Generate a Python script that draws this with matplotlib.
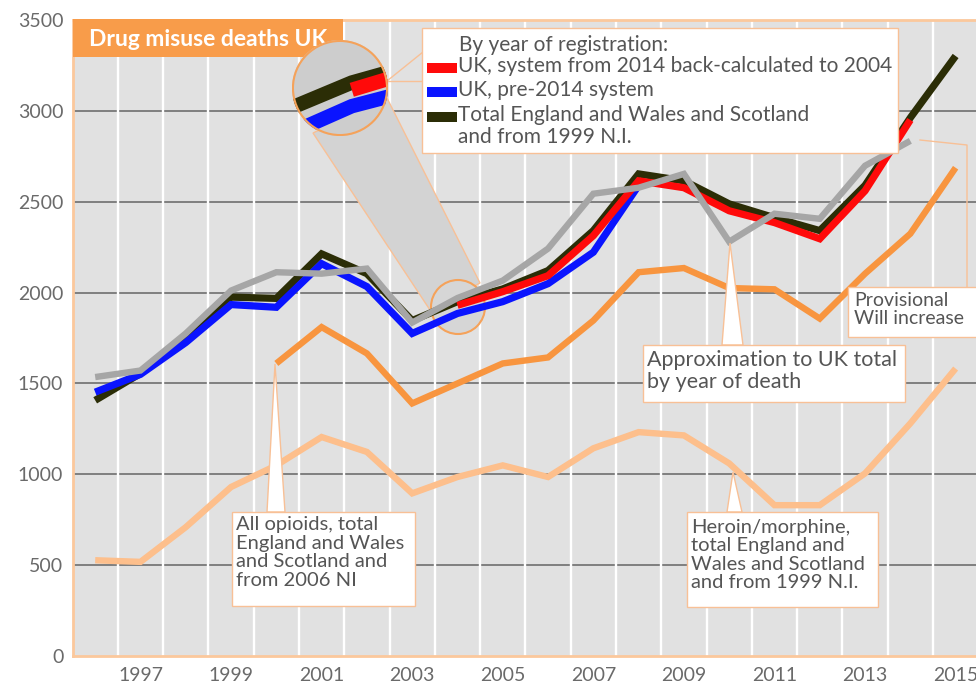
import numpy as np
import matplotlib.pyplot as plt
import matplotlib.transforms as mtransforms
from matplotlib.patches import Rectangle, Polygon, Circle

plt.rcParams['font.family'] = ['Lato', 'DejaVu Sans']

# --- data ---
years = np.arange(1996, 2016)
total_gb_ni = [1407, 1555, 1740, 1975, 1968, 2213, 2104, 1846, 1950, 2020,
               2121, 2341, 2653, 2615, 2488, 2412, 2341, 2590, 2962, 3302]

pre2014_years = np.arange(1996, 2009)
uk_pre2014 = [1452, 1550, 1725, 1934, 1919, 2159, 2033, 1775, 1885, 1950,
              2049, 2222, 2590]

new_years = np.arange(2004, 2015)
uk_new_system = [1930, 2005, 2093, 2313, 2615, 2577, 2450, 2385, 2296, 2560, 2950]

death_years = np.arange(1996, 2015)
uk_by_death = [1535, 1571, 1775, 2011, 2112, 2104, 2132, 1835, 1970, 2066,
               2242, 2544, 2577, 2653, 2280, 2434, 2406, 2698, 2835]

opioid_years = np.arange(2000, 2016)
all_opioids = [1610, 1810, 1665, 1390, 1500, 1610, 1643, 1846, 2112, 2135,
               2025, 2018, 1857, 2104, 2324, 2687]

heroin_morphine = [527, 518, 709, 930, 1049, 1205, 1123, 895, 985, 1049,
                   985, 1143, 1232, 1214, 1060, 830, 830, 1005, 1280, 1582]

yticks = [0, 500, 1000, 1500, 2000, 2500, 3000, 3500]
xticks = list(range(1997, 2016, 2))

# colours
c_black = '#2b2d06'
c_red = '#ff0a0a'
c_blue = '#0a14ff'
c_grey = '#a6a6a6'
c_orange = '#f8953f'
c_light = '#fdbf8c'
c_edge = '#f8c096'
c_text = '#555555'

W, H = 976, 687
fig = plt.figure(figsize=(W / 100, H / 100), dpi=100)
ax = fig.add_axes([73 / W, 1 - 656 / H, (W - 73) / W, (656 - 20) / H])
# reference-pixel transform for the decorations
pix = mtransforms.Affine2D().scale(1 / W, -1 / H).translate(0, 1) + fig.transFigure

ax.set_facecolor('#e1e1e1')
ax.set_xlim(1995.51, 2015.45)
ax.set_ylim(0, 3500)

for y in yticks[1:-1]:
    ax.axhline(y, color='#777777', lw=1.3, zorder=1)
for x in np.arange(1996.5, 2015.5, 1):
    ax.axvline(x, color='white', lw=1.7, zorder=1.5)

ax.set_xticks(xticks)
ax.set_yticks(yticks)
ax.tick_params(length=0, labelsize=14, labelcolor='#6a6a6a')
ax.tick_params(axis='y', pad=7)
ax.tick_params(axis='x', pad=8)
for side in ['left', 'top', 'bottom']:
    ax.spines[side].set_color('#fbc89c')
    ax.spines[side].set_linewidth(2)
ax.spines['right'].set_visible(False)

# zoom connector and small circle (under the lines)
ax.add_patch(Polygon([(313, 133), (387, 98), (480, 283), (430, 310)], closed=True,
                     transform=pix, fc='#d3d3d3', ec=c_edge, lw=1, zorder=2, clip_on=False))
ax.add_patch(Circle((458, 307), 27, transform=pix, fc='#d6d6d6', ec='#f5a25a',
                    lw=1.5, zorder=2.1, clip_on=False))

lw = 5.2
kw = dict(solid_joinstyle='miter', solid_capstyle='butt')
ax.plot(years, total_gb_ni, color=c_black, lw=lw, zorder=3, **kw)
ax.plot(pre2014_years, uk_pre2014, color=c_blue, lw=lw, zorder=3.1, **kw)
ax.plot(new_years, uk_new_system, color=c_red, lw=lw, zorder=3.2, **kw)
ax.plot(death_years, uk_by_death, color=c_grey, lw=4.6, zorder=3.3, **kw)
ax.plot(opioid_years, all_opioids, color=c_orange, lw=4.6, zorder=3, **kw)
ax.plot(years, heroin_morphine, color=c_light, lw=4.6, zorder=3, **kw)

# annotation pointers and boxes
pointers = [
    [(267, 512), (275, 364), (285, 512)],
    [(722, 345), (730, 243), (743, 345)],
    [(727, 512), (733, 472), (742, 512)],
]
for pts in pointers:
    ax.add_patch(Polygon(pts, closed=True, transform=pix, fc='white', ec=c_edge,
                         lw=1, zorder=5, clip_on=False))
ax.plot([920, 967, 967], [140, 145, 290], transform=pix, color=c_edge, lw=1,
        zorder=5, clip_on=False)

boxes = [
    ((232, 512, 183, 94), (236, 516), "All opioids, total\nEngland and Wales\nand Scotland and\nfrom 2006 NI", 14.5, 1.12),
    ((643, 345, 262, 57), (647, 350), "Approximation to UK total\nby year of death", 15.5, 1.1),
    ((687, 512, 191, 95), (691, 519), "Heroin/morphine,\ntotal England and\nWales and Scotland\nand from 1999 N.I.", 14.5, 1.1),
    ((848, 287, 140, 50), (854, 292), "Provisional\nWill increase", 14, 1.05),
]
for (x0, y0, w, h), (tx, ty), label, fs, ls in boxes:
    ax.add_patch(Rectangle((x0, y0), w, h, transform=pix, fc='white', ec=c_edge,
                           lw=1, zorder=6, clip_on=False))
    ax.text(tx, ty, label, transform=pix, ha='left', va='top', fontsize=fs,
            color=c_text, linespacing=ls, zorder=7, clip_on=False)

# legend box
ax.plot([387, 423], [81, 81], transform=pix, color=c_edge, lw=1, zorder=7, clip_on=False)
ax.plot([387, 423], [81, 52], transform=pix, color=c_edge, lw=1, zorder=7, clip_on=False)
ax.add_patch(Rectangle((422, 28), 476, 125, transform=pix, fc='white', ec=c_edge,
                       lw=1, zorder=8, clip_on=False))
ax.text(459, 45, "By year of registration:", transform=pix, va='center',
        fontsize=15, color=c_text, zorder=9)
legend_rows = [
    (c_red, 68, "UK, system from 2014 back-calculated to 2004"),
    (c_blue, 92, "UK, pre-2014 system"),
    (c_black, 117, "Total England and Wales and Scotland\nand from 1999 N.I."),
]
for col, yc, label in legend_rows:
    ax.add_patch(Rectangle((427, yc - 5), 30, 10, transform=pix, fc=col, ec='none',
                           zorder=9, clip_on=False))
    ax.text(458, yc - 12, label, transform=pix, va='top', fontsize=15,
            color=c_text, linespacing=1.1, zorder=9)

# title tab
ax.add_patch(Rectangle((73, 19), 270, 38, transform=pix, fc='#f89c4a', ec='none',
                       zorder=8, clip_on=False))
ax.text(89, 39, "Drug misuse deaths UK", transform=pix, va='center', ha='left',
        fontsize=16.5, fontweight='bold', color='white', zorder=9)

# magnifier around 2004
cx, cy, r = 340, 88, 48
axin = fig.add_axes([(cx - r) / W, 1 - (cy + r) / H, 2 * r / W, 2 * r / H])
axin.set_xlim(2003.87 - 0.53, 2003.87 + 0.53)
axin.set_ylim(1935 - 132, 1935 + 132)
axin.axis('off')
disc = Circle((0.5, 0.5), 0.5, transform=axin.transAxes, fc='#cdcdcd', ec='none')
axin.add_patch(disc)
for xs, ys, col in [(years, total_gb_ni, c_black), (pre2014_years, uk_pre2014, c_blue),
                    (new_years, uk_new_system, c_red)]:
    ln, = axin.plot(xs, ys, color=col, lw=2 * lw, **kw)
    ln.set_clip_path(disc)
axin.add_patch(Circle((0.5, 0.5), 0.49, transform=axin.transAxes, fc='none',
                      ec='#f5a25a', lw=1.5, zorder=5))

fig.savefig('out.png', dpi=100)
